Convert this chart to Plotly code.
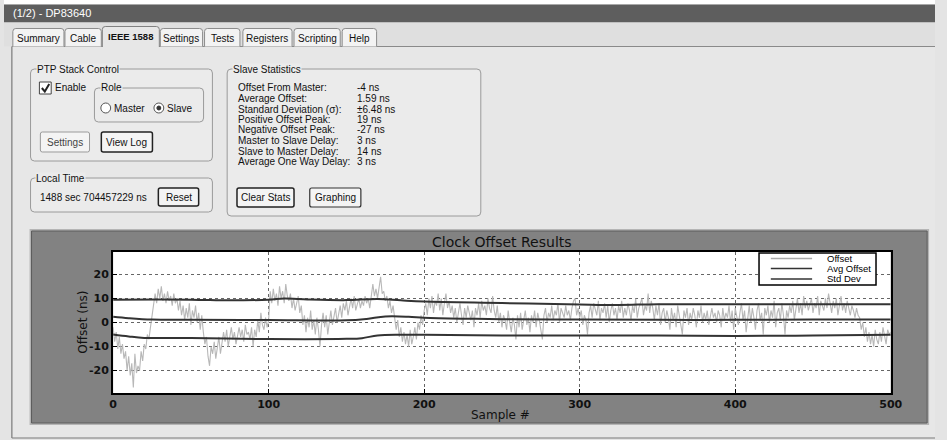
import plotly.graph_objects as go

# ---------------------------------------------------------------- data
sample_idx = list(range(501))

offset_ns = [
    -2, -8, -4, -11, -6, -13, -9, -15, -12, -20,
    -14, -22, -17, -27, -13, -21, -18, -20, -12, -16,
    -9, -11, -5, -7, -2, 3, 9, 12, 8, 14,
    10, 15, 9, 12, 8, 13, 9, 11, 7, 12,
    8, 10, 5, 9, 3, 7, 1, 6, 2, 8,
    -1, 5, 2, 7, 0, 4, -3, 3, -4, -9,
    -6, -14, -18, -10, -13, -8, -15, -11, -6, -13,
    -9, -4, -8, -3, -10, -6, -2, -7, -4, -9,
    -5, -2, -6, -3, -8, -1, -5, -4, -7, -2,
    -10, -3, -6, 1, -4, 4, -1, -3, 2, -2,
    1, 13, 8, 14, 9, 12, 7, 15, 10, 13,
    8, 16, 11, 9, 12, 6, 10, 5, 8, 11,
    4, 7, -1, 3, -4, 2, -2, 5, -3, 1,
    -5, 2, -3, -10, -1, 4, -2, 3, -5, 1,
    5, -1, 3, 6, 0, 4, 7, 2, 8, 5,
    9, 3, 7, 10, 6, 11, 5, 8, 10, 6,
    9, 7, 11, 8, 10, 6, 12, 16, 11, 14,
    10, 15, 19, 12, 13, 9, 11, 6, 9, 4,
    7, 2, -3, 1, -6, -2, -8, -4, -9, -5,
    -10, -3, -9, -6, -2, -7, 0, -3, 3, -1,
    5, 8, 3, 10, 6, 11, 4, 9, 7, 12,
    5, 10, 3, 8, 12, 6, 9, 4, 7, 2,
    6, 0, 5, 8, 3, -1, 6, 2, 7, 4,
    1, 5, -2, 6, 3, 8, 2, 9, 5, 7,
    3, 10, 6, 4, 11, 5, 2, 7, 0, 4,
    -2, 3, 1, -3, 5, 0, -4, 2, -1, -7,
    3, -2, 4, -3, 1, 5, -1, 2, -4, 3,
    0, 5, -2, 4, 1, -3, -7, 3, 6, 0,
    4, 2, 7, 1, 5, 3, 8, 0, 6, 4,
    2, 7, 3, 5, 1, 6, 9, 10, 3, 6,
    2, 5, -1, 3, 1, -5, 4, 7, 2, 8,
    5, 3, 9, 1, 6, 4, 8, 2, 7, 0,
    5, 8, 3, 6, 1, 7, 4, 9, 2, 6,
    3, 8, 5, 1, 7, 4, 10, 2, 6, 8,
    10, 3, 7, 5, 12, 4, 9, 6, 1, 7,
    3, 8, -1, 4, 6, 0, 5, 2, -3, 6,
    1, 4, -2, 7, 3, 0, -5, 5, 2, 6,
    -1, 4, 1, 6, 3, -2, 5, 2, 7, 0,
    4, 1, 5, -1, 3, 6, 2, 4, 0, 5,
    3, -2, 6, 1, 4, 2, 7, 0, 5, -3,
    6, 2, -1, 4, 8, 1, 5, -4, 3, 7,
    0, 6, 2, -3, 5, 8, 1, 4, -5, 6,
    3, 7, 0, 5, 2, 9, -2, 4, 6, 1,
    8, 3, -5, 5, 2, 7, 4, 9, 1, 6,
    10, 4, 8, 3, 11, 6, 9, 5, 7, 10,
    4, 8, 6, 11, 3, 9, 7, 5, 10, 6,
    12, 8, 4, 9, 6, 10, 3, 7, 11, 5,
    8, 4, 9, 6, 3, 7, 5, 2, 6, 3,
    2, -3, 0, -6, -2, -8, -4, -9, -5, -10,
    -3, -7, -9, -4, -8, -2, -6, -9, -3, -5,
    -4,
]

avg_x = [0, 10, 25, 50, 100, 150, 163, 175, 190, 200, 225, 250, 300, 350, 400, 450, 500]
avg_y = [2.4, 1.8, 1.2, 1.1, 1.0, 0.9, 1.5, 2.5, 2.4, 2.0, 1.6, 1.4, 1.2, 1.1, 1.1, 1.2, 1.2]

std_hi_x = [0, 50, 75, 100, 110, 125, 150, 170, 185, 200, 250, 300, 325, 350, 400, 450, 500]
std_hi_y = [9.5, 9.5, 9.2, 9.5, 10.0, 9.6, 9.3, 9.8, 9.2, 8.7, 8.1, 7.5, 7.3, 7.6, 7.6, 7.6, 7.6]

std_lo_x = [0, 10, 20, 50, 100, 150, 160, 170, 185, 200, 250, 300, 350, 400, 450, 500]
std_lo_y = [-5.0, -5.8, -6.4, -6.4, -6.9, -6.8, -6.5, -5.4, -5.1, -5.1, -5.4, -5.4, -5.4, -5.6, -5.4, -5.1]

x_ticks = [0, 100, 200, 300, 400, 500]
y_ticks = [-20, -10, 0, 10, 20]
y_tick_text = ["-20", "-10", "0", "10", "20"]

tab_names = ["Summary", "Cable", "IEEE 1588", "Settings", "Tests", "Registers", "Scripting", "Help"]

stat_labels = [
    "Offset From Master:", "Average Offset:", "Standard Deviation (\u03c3):",
    "Positive Offset Peak:", "Negative Offset Peak:", "Master to Slave Delay:",
    "Slave to Master Delay:", "Average One Way Delay:",
]
stat_values = ["-4 ns", "1.59 ns", "\u00b16.48 ns", "19 ns", "-27 ns", "3 ns", "14 ns", "3 ns"]

legend_names = ["Offset", "Avg Offset", "Std Dev"]

# ---------------------------------------------------------------- page geometry helpers
W, H = 947, 440


def fx(x):
    return x / W


def fy(y):
    return 1 - y / H


def P(x, y):
    return f"{fx(x):.5f},{fy(y):.5f}"


shapes = []
annotations = []

GUI_FONT = "Liberation Sans, Arial, sans-serif"
PLOT_FONT = "DejaVu Sans, sans-serif"
PANEL = "#e7e7e7"
BOX = "#ebebeb"
GUI_SIZE = 10


def rect(x0, y0, x1, y1, fill=None, line=None, lw=1, layer="below"):
    shapes.append(dict(
        type="rect", xref="paper", yref="paper",
        x0=fx(x0), x1=fx(x1), y0=fy(y1), y1=fy(y0),
        fillcolor=fill or "rgba(0,0,0,0)",
        line=dict(color=line or "rgba(0,0,0,0)", width=lw if line else 0),
        layer=layer,
    ))


def seg(x0, y0, x1, y1, color, lw=1, layer="below"):
    shapes.append(dict(
        type="line", xref="paper", yref="paper",
        x0=fx(x0), x1=fx(x1), y0=fy(y0), y1=fy(y1),
        line=dict(color=color, width=lw), layer=layer,
    ))


def rrect(x0, y0, x1, y1, r, fill, line, lw=1, layer="below"):
    path = (f"M {P(x0 + r, y0)} L {P(x1 - r, y0)} Q {P(x1, y0)} {P(x1, y0 + r)} "
            f"L {P(x1, y1 - r)} Q {P(x1, y1)} {P(x1 - r, y1)} "
            f"L {P(x0 + r, y1)} Q {P(x0, y1)} {P(x0, y1 - r)} "
            f"L {P(x0, y0 + r)} Q {P(x0, y0)} {P(x0 + r, y0)} Z")
    shapes.append(dict(type="path", xref="paper", yref="paper", path=path,
                       fillcolor=fill, line=dict(color=line, width=lw), layer=layer))


def tab_shape(x0, y0, x1, y1, fill, line):
    r = 3
    path = (f"M {P(x0, y1)} L {P(x0, y0 + r)} Q {P(x0, y0)} {P(x0 + r, y0)} "
            f"L {P(x1 - r, y0)} Q {P(x1, y0)} {P(x1, y0 + r)} L {P(x1, y1)}")
    shapes.append(dict(type="path", xref="paper", yref="paper", path=path,
                       fillcolor=fill, line=dict(color=line, width=1), layer="below"))


def circle(cx, cy, r, fill, line, lw=1):
    shapes.append(dict(type="circle", xref="paper", yref="paper",
                       x0=fx(cx - r), x1=fx(cx + r), y0=fy(cy + r), y1=fy(cy - r),
                       fillcolor=fill, line=dict(color=line, width=lw), layer="above"))


def text(x, y, s, size=GUI_SIZE, color="#111111", anchor="left", family=GUI_FONT,
         bg=None, weight="normal", angle=0):
    a = dict(x=fx(x), y=fy(y), xref="paper", yref="paper", text=s, showarrow=False,
             xanchor=anchor, yanchor="middle", textangle=angle,
             font=dict(family=family, size=size, color=color, weight=weight))
    if bg:
        a["bgcolor"] = bg
        a["borderpad"] = 0
    annotations.append(a)


def button(x0, y0, x1, y1, label, border="#707070", lw=1, color="#111111"):
    rrect(x0, y0, x1, y1, 2, "#f4f4f4", border, lw)
    text((x0 + x1) / 2, (y0 + y1) / 2, label, anchor="center", color=color)


# ---------------------------------------------------------------- window chrome
rect(0, 0, W, 4.5, fill="#ffffff")
rect(0, 4.5, W, 22.5, fill="#5e5e5e")
text(7, 13.5, "(1/2) - DP83640", size=11, color="#ffffff")
rect(0, 22.5, W, 46.5, fill="#dfdfdf")
rect(8, 46.5, W, 438, fill=PANEL)
seg(8, 46.5, 8, 438, "#7a7a7a", 1.2)
seg(8, 438, W, 438, "#7a7a7a", 1.2)
seg(8, 46.5, W, 46.5, "#8a8a8a", 1)

# notebook tabs
tab_edges = [(9, 61), (62, 99), (100, 158), (159, 202), (204, 240), (243, 293), (295, 342), (344, 379)]
for name, (a, b) in zip(tab_names, tab_edges):
    if name == "IEEE 1588":
        tab_shape(a, 26.5, b, 47, PANEL, "#808080")
        text((a + b) / 2, 36.5, name, anchor="center", weight="bold", size=9.5)
    else:
        tab_shape(a, 28.5, b, 46.5, "#f3f3f3", "#8c8c8c")
        text((a + b) / 2, 38, name, anchor="center")

# PTP Stack Control group
rrect(27, 69, 212, 161, 4, BOX, "#9a9a9a")
text(33, 69, "PTP Stack Control", bg=BOX)
rect(36, 82, 48, 94, fill="#ffffff", line="#444444", lw=1, layer="above")
shapes.append(dict(type="path", xref="paper", yref="paper",
                   path=f"M {P(38.5, 88)} L {P(41.5, 91.5)} L {P(46, 84)}",
                   line=dict(color="#222222", width=2), layer="above"))
text(50, 88, "Enable")
rrect(92, 88, 203, 122, 4, BOX, "#9a9a9a")
text(98, 88, "Role", bg=BOX)
circle(103.5, 108, 5, "#ffffff", "#555555")
text(110, 108, "Master")
circle(157.5, 108, 5, "#ffffff", "#555555")
circle(157.5, 108, 2, "#333333", "#333333")
text(164, 108, "Slave")
button(37, 132, 87, 152, "Settings", border="#9a9a9a", color="#444444")
button(99, 132, 151, 152, "View Log", border="#222222", lw=1.5)

# Local Time group
rrect(27, 178, 212, 212, 4, BOX, "#9a9a9a")
text(32, 178, "Local Time", bg=BOX)
text(35, 198, "1488 sec 704457229 ns")
button(157, 188, 198, 206, "Reset", border="#222222", lw=1.5)

# Slave Statistics group
rrect(227, 69, 485, 216, 4, BOX, "#9a9a9a")
text(232, 69, "Slave Statistics", bg=BOX)
row_y = [88, 98.5, 109, 119.5, 130, 140.5, 151, 161.5]
for yy, lab, val in zip(row_y, stat_labels, stat_values):
    text(236, yy, lab)
    text(357, yy, val)
button(237, 188, 295, 207, "Clear Stats", border="#222222", lw=1.5)
button(311, 188, 363, 207, "Graphing", border="#333333", lw=1.2)

# ---------------------------------------------------------------- chart frame
rect(26, 229, 941, 425, fill="#b5b5b5")
rect(28, 231, 939, 423, fill="#828282", line="#5c5c5c", lw=1)
rect(111, 252, 902, 393, fill="#ffffff")
text(507, 241.5, "Clock Offset Results", size=14, family=PLOT_FONT, anchor="center", color="#111111")
text(505, 414.5, "Sample #", size=12, family=PLOT_FONT, anchor="center", color="#111111")
text(80, 322, "Offset (ns)", size=12, family=PLOT_FONT, anchor="center", color="#111111", angle=-90)

# legend box
rect(768, 253, 887, 285, fill="#ffffff", line="#000000", lw=1.5, layer="above")
legend_colors = ["#aaaaaa", "#333333", "#333333"]
legend_y = [258.5, 268.5, 279]
for nm, col, yy in zip(legend_names, legend_colors, legend_y):
    seg(780, yy, 822, yy, col, 1.5, layer="above")
    text(835, yy - 0.5, nm, size=9.5, family="Liberation Sans Narrow, Liberation Sans, sans-serif",
         color="#000000")

# ---------------------------------------------------------------- traces
fig = go.Figure()
fig.add_trace(go.Scatter(x=sample_idx, y=offset_ns, mode="lines", name="Offset",
                         line=dict(color="#b8b8b8", width=1.1), showlegend=False))
fig.add_trace(go.Scatter(x=avg_x, y=avg_y, mode="lines", name="Avg Offset",
                         line=dict(color="#333333", width=2, shape="spline"), showlegend=False))
fig.add_trace(go.Scatter(x=std_hi_x, y=std_hi_y, mode="lines", name="Std Dev",
                         line=dict(color="#333333", width=2, shape="spline"), showlegend=False))
fig.add_trace(go.Scatter(x=std_lo_x, y=std_lo_y, mode="lines", name="Std Dev",
                         line=dict(color="#333333", width=2, shape="spline"), showlegend=False))

tick_font = dict(family=PLOT_FONT, size=11, color="#111111", weight="bold")
fig.update_layout(
    width=W, height=H,
    margin=dict(l=0, r=0, t=0, b=0),
    paper_bgcolor="#e4e4e4",
    plot_bgcolor="#ffffff",
    showlegend=False,
    shapes=shapes,
    annotations=annotations,
    xaxis=dict(
        domain=[fx(111), fx(902)], range=[0, 500],
        tickvals=x_ticks, ticktext=[str(v) for v in x_ticks],
        showgrid=True, gridcolor="#666666", griddash="dot", gridwidth=1,
        zeroline=False, showline=True, linecolor="#000000", linewidth=2, mirror=True,
        ticks="inside", ticklen=4, tickcolor="#000000", tickfont=tick_font,
    ),
    yaxis=dict(
        domain=[fy(393), fy(252)], range=[-29.3, 29.3],
        tickvals=y_ticks, ticktext=y_tick_text,
        showgrid=True, gridcolor="#666666", griddash="dot", gridwidth=1,
        zeroline=False, showline=True, linecolor="#000000", linewidth=2, mirror=True,
        ticks="inside", ticklen=4, tickcolor="#000000", tickfont=tick_font,
    ),
)

fig.write_html("out.html")
